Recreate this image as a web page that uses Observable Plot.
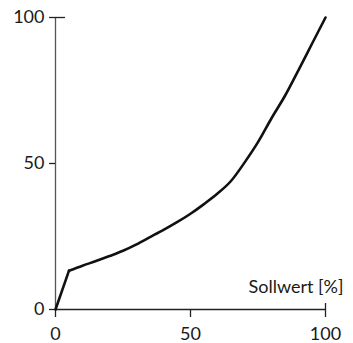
<!DOCTYPE html>
<html>
<head>
<meta charset="utf-8">
<script src="https://cdn.jsdelivr.net/npm/d3@7"></script>
<script src="https://cdn.jsdelivr.net/npm/@observablehq/plot@0.6"></script>
<style>
  html, body { margin: 0; padding: 0; background: #fff; }
  svg { display: block; }
</style>
</head>
<body>
<div id="chart"></div>
<script>
const sollwert = [0, 5, 10, 15, 20, 25, 30, 35, 40, 45, 50, 55, 60, 65, 70, 75, 80, 85, 90, 95, 100];
const istwert  = [0, 13.3, 15, 16.6, 18.3, 20.1, 22.3, 24.8, 27.3, 29.9, 32.8, 36.1, 39.7, 44, 50.3, 57.3, 65.5, 73.2, 82, 91, 100];
const xTicks = [0, 50, 100];
const yTicks = [0, 50, 100];
const xLabel = "Sollwert [%]";

const data = sollwert.map((x, i) => ({x, y: istwert[i]}));
const kneeIndex = 1;
const startPart = data.slice(0, kneeIndex + 1);
const curvePart = data.slice(kneeIndex);

const chart = Plot.plot({
  width: 353,
  height: 343,
  marginLeft: 55,
  marginRight: 28,
  marginTop: 17,
  marginBottom: 34,
  style: {fontFamily: "Lato, sans-serif", fontSize: "18px", color: "#1a1a1a", background: "#fff"},
  x: {domain: [0, 100]},
  y: {domain: [0, 100]},
  marks: [
    Plot.ruleX([0], {stroke: "#555", strokeWidth: 1.3}),
    Plot.ruleY([0], {stroke: "#222", strokeWidth: 1.3}),
    Plot.axisX({ticks: xTicks, tickSize: 8, tickPadding: 10, label: null, stroke: "#222", strokeWidth: 1.3, fill: "#1a1a1a"}),
    Plot.axisX({ticks: [xTicks[2]], tickSize: 6, dy: -6, tickFormat: () => "", label: null, stroke: "#222", strokeWidth: 1.3}),
    Plot.axisY({ticks: yTicks, tickSize: 6, tickPadding: 5, label: null, stroke: "#222", strokeWidth: 1.3, fill: "#1a1a1a"}),
    Plot.axisY({ticks: [yTicks[2]], tickSize: 10, dx: 10, tickFormat: () => "", label: null, stroke: "#222", strokeWidth: 1.3}),
    Plot.line(startPart, {x: "x", y: "y", stroke: "#111", strokeWidth: 2.6, strokeLinejoin: "round"}),
    Plot.line(curvePart, {x: "x", y: "y", stroke: "#111", strokeWidth: 2.6, curve: "monotone-x"}),
    Plot.text([xLabel], {frameAnchor: "bottom-right", textAnchor: "end", lineAnchor: "bottom", dx: 18, dy: -17, fill: "#1a1a1a", fontSize: 18})
  ]
});
document.getElementById("chart").appendChild(chart);
</script>
</body>
</html>
